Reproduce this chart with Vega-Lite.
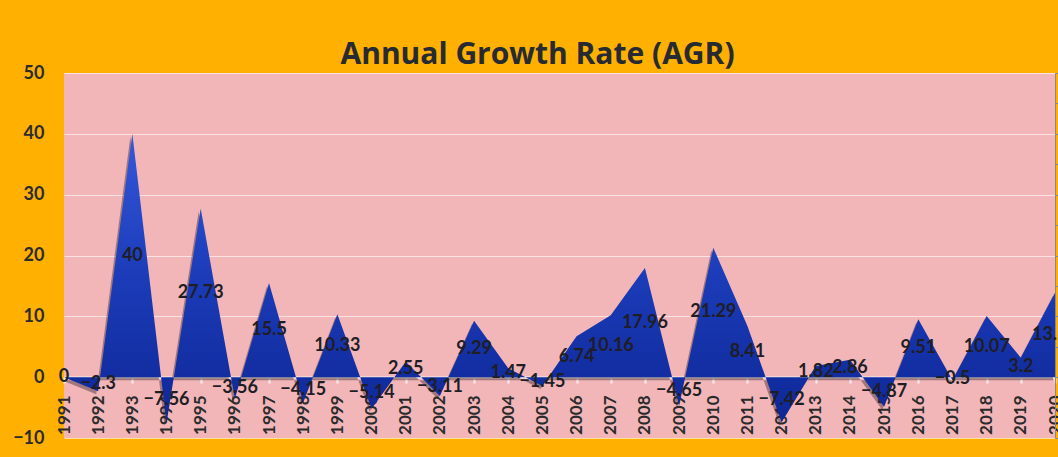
{
  "$schema": "https://vega.github.io/schema/vega-lite/v6.json",
  "width": 991,
  "height": 365,
  "autosize": {"type": "none"},
  "padding": {"left": 64, "top": 73, "right": 3, "bottom": 19},
  "background": "#FFB000",
  "config": {
    "view": {"fill": "#F2B6B9", "stroke": null},
    "font": "Lato"
  },
  "title": {
    "text": "Annual Growth Rate (AGR)",
    "font": "Open Sans",
    "fontSize": 30,
    "fontWeight": "bold",
    "color": "#262A33",
    "anchor": "middle",
    "dx": -22,
    "offset": -6
  },
  "data": {
    "values": [
      {"year": "1991", "value": 0},
      {"year": "1992", "value": -2.3},
      {"year": "1993", "value": 40},
      {"year": "1994", "value": -7.56},
      {"year": "1995", "value": 27.73},
      {"year": "1996", "value": -3.56},
      {"year": "1997", "value": 15.5},
      {"year": "1998", "value": -4.15},
      {"year": "1999", "value": 10.33},
      {"year": "2000", "value": -5.14},
      {"year": "2001", "value": 2.55},
      {"year": "2002", "value": -3.11},
      {"year": "2003", "value": 9.29},
      {"year": "2004", "value": 1.47},
      {"year": "2005", "value": -1.45},
      {"year": "2006", "value": 6.74},
      {"year": "2007", "value": 10.16},
      {"year": "2008", "value": 17.96},
      {"year": "2009", "value": -4.65},
      {"year": "2010", "value": 21.29},
      {"year": "2011", "value": 8.41},
      {"year": "2012", "value": -7.42},
      {"year": "2013", "value": 1.82},
      {"year": "2014", "value": 2.86},
      {"year": "2015", "value": -4.87},
      {"year": "2016", "value": 9.51},
      {"year": "2017", "value": -0.5},
      {"year": "2018", "value": 10.07},
      {"year": "2019", "value": 3.2},
      {"year": "2020", "value": 13.88}
    ]
  },
  "encoding": {
    "x": {
      "field": "year", "type": "ordinal",
      "scale": {"type": "point", "padding": 0},
      "axis": {
        "title": null,
        "offset": -61,
        "labelAngle": 270,
        "labelFontSize": 17,
        "labelFontWeight": "bold",
        "labelColor": "#2B2B2B",
        "labelPadding": 12,
        "labelOverlap": false,
        "labelBound": false,
        "domainColor": "#F4F0F0",
        "domainWidth": 2,
        "tickColor": "#F4F0F0",
        "tickWidth": 2,
        "tickSize": 6,
        "grid": false
      }
    }
  },
  "layer": [
    {
      "mark": {"type": "area", "color": "#2a1a20", "opacity": 0.4, "xOffset": -2, "yOffset": 3},
      "encoding": {
        "y": {
          "field": "value", "type": "quantitative",
          "scale": {"domain": [-10, 50], "nice": false},
          "axis": {
            "title": null,
            "values": [-10, 0, 10, 20, 30, 40, 50],
            "labelFontSize": 18,
            "labelFontWeight": "bold",
            "labelColor": "#2B2B2B",
            "labelPadding": 20,
            "domain": false,
            "ticks": false,
            "grid": true,
            "gridColor": "#FFFFFF",
            "gridOpacity": 0.6,
            "gridWidth": 1
          }
        }
      }
    },
    {
      "mark": {
        "type": "area",
        "color": {
          "gradient": "linear",
          "x1": 0, "y1": 0, "x2": 0, "y2": 1,
          "stops": [
            {"offset": 0, "color": "#3558DA"},
            {"offset": 0.5, "color": "#1B3BB8"},
            {"offset": 1, "color": "#0E2796"}
          ]
        }
      },
      "encoding": {
        "y": {"field": "value", "type": "quantitative", "scale": {"domain": [-10, 50], "nice": false}}
      }
    },
    {
      "mark": {"type": "text", "font": "Lato", "fontSize": 18, "fontWeight": "bold", "color": "#1E1E24"},
      "encoding": {
        "y": {"field": "value", "type": "quantitative", "scale": {"domain": [-20, 100], "nice": false}, "axis": null},
        "text": {"field": "value", "type": "quantitative"}
      }
    }
  ],
  "resolve": {"scale": {"y": "independent"}}
}
